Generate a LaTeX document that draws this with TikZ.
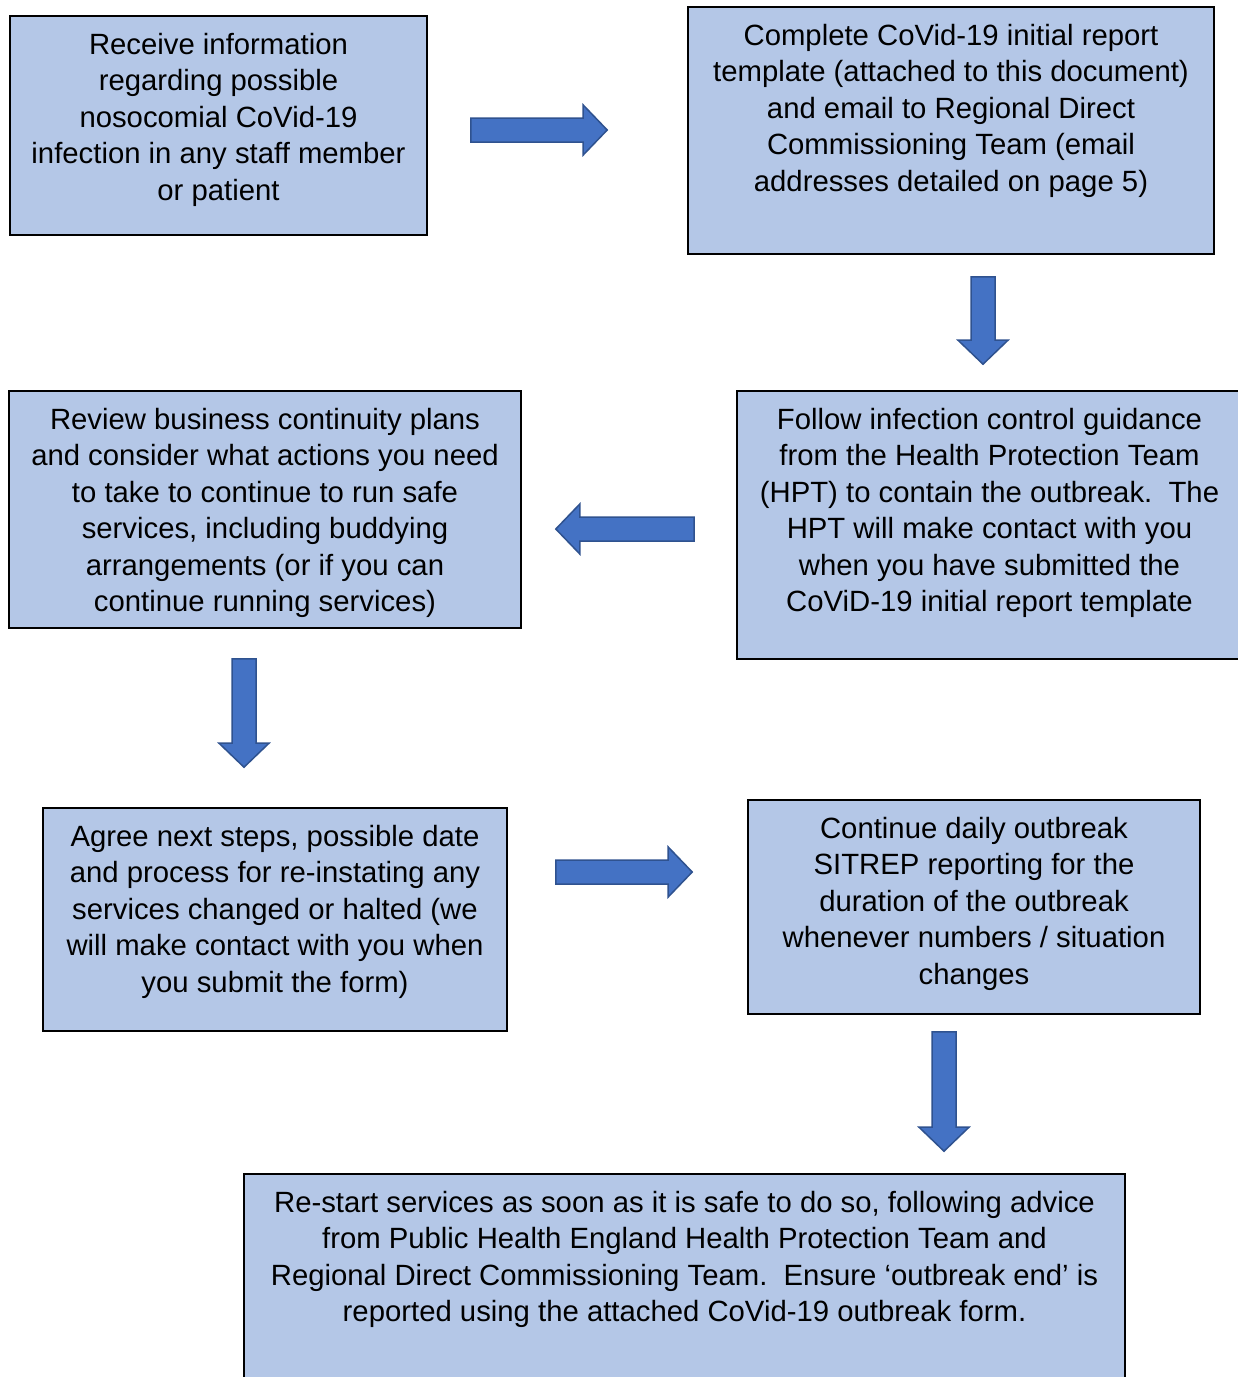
\documentclass[tikz,border=0pt]{standalone}
\usepackage{fontspec}
\setmainfont{Liberation Sans}
\usepackage{tikz}
\usepackage{xcolor}
\usetikzlibrary{calc, shapes}

\definecolor{boxfill}{HTML}{B4C7E7}
\definecolor{arrowfill}{HTML}{4472C4}
\definecolor{arrowline}{HTML}{2F528F}

\newcommand{\steptext}[3]{\parbox[c][#2][t]{#1}{\centering\rule{0pt}{38.5pt}#3}}

\tikzset{
    stepbox/.style  = {draw = black, fill = boxfill, line width = 1.6pt, inner sep = 0pt,
                       font = \fontsize{29.3}{36.4}\selectfont},
    fatarrow/.style = {draw = arrowline, fill = arrowfill, line width = 1.5pt,
        to path = {
            ($(\tikztotarget)!24pt!(\tikztostart)$) coordinate (fa-base)
            ($(\tikztostart)!12pt!90:(\tikztotarget)$)
                -- ($(fa-base)!12pt!90:(\tikztotarget)$)
                -- ($(fa-base)!25pt!90:(\tikztotarget)$)
                -- (\tikztotarget)
                -- ($(fa-base)!25pt!-90:(\tikztotarget)$)
                -- ($(fa-base)!12pt!-90:(\tikztotarget)$)
                -- ($(\tikztostart)!12pt!-90:(\tikztotarget)$)
                -- cycle}}
}

\begin{document}
\begin{tikzpicture}[x = 1pt, y = -1pt]
    \useasboundingbox (0,0) rectangle (1238,1377);

    \node[stepbox] (recv)    at (218.5,125.5)  {\steptext{417pt}{219pt}{Receive information\\regarding possible\\nosocomial CoVid-19\\infection in any staff member\\or patient}};
    \node[stepbox] (compl)   at (951,130.5)    {\steptext{526pt}{247pt}{Complete CoVid-19 initial report\\template (attached to this document)\\and email to Regional Direct\\Commissioning Team (email\\addresses detailed on page 5)}};
    \node[stepbox] (follow)  at (989.5,525)    {\steptext{505pt}{268pt}{Follow infection control guidance\\from the Health Protection Team\\(HPT) to contain the outbreak.\ \ The\\HPT will make contact with you\\when you have submitted the\\CoViD-19 initial report template}};
    \node[stepbox] (review)  at (265,509.5)    {\steptext{512pt}{237pt}{Review business continuity plans\\and consider what actions you need\\to take to continue to run safe\\services, including buddying\\arrangements (or if you can\\continue running services)}};
    \node[stepbox] (agree)   at (275,919.5)    {\steptext{464pt}{223pt}{Agree next steps, possible date\\and process for re-instating any\\services changed or halted (we\\will make contact with you when\\you submit the form)}};
    \node[stepbox] (cont)    at (974,907)      {\steptext{452pt}{214pt}{Continue daily outbreak\\SITREP reporting for the\\duration of the outbreak\\whenever numbers / situation\\changes}};
    \node[stepbox] (restart) at (684.5,1289)   {\steptext{881pt}{230pt}{Re-start services as soon as it is safe to do so, following advice\\from Public Health England Health Protection Team and\\Regional Direct Commissioning Team.\ \ Ensure ‘outbreak end’ is\\reported using the attached CoVid-19 outbreak form.}};

    % block arrows between the steps
    \path[fatarrow] ([xshift=43pt, yshift=-4.5pt]recv.east)   to ([xshift=-80pt, yshift=0.5pt]compl.west);
    \path[fatarrow] ([xshift=32pt, yshift=-22pt]compl.south)  to ([xshift=-6.5pt, yshift=26pt]follow.north);
    \path[fatarrow] ([xshift=-42pt, yshift=-4pt]follow.west)  to ([xshift=34pt, yshift=-19.5pt]review.east);
    \path[fatarrow] ([xshift=-21pt, yshift=-30pt]review.south) to ([xshift=-31pt, yshift=40pt]agree.north);
    \path[fatarrow] ([xshift=48pt, yshift=47.5pt]agree.east)  to ([xshift=-55pt, yshift=35pt]cont.west);
    \path[fatarrow] ([xshift=-30pt, yshift=-17pt]cont.south)  to ([xshift=259.5pt, yshift=22pt]restart.north);
\end{tikzpicture}
\end{document}
